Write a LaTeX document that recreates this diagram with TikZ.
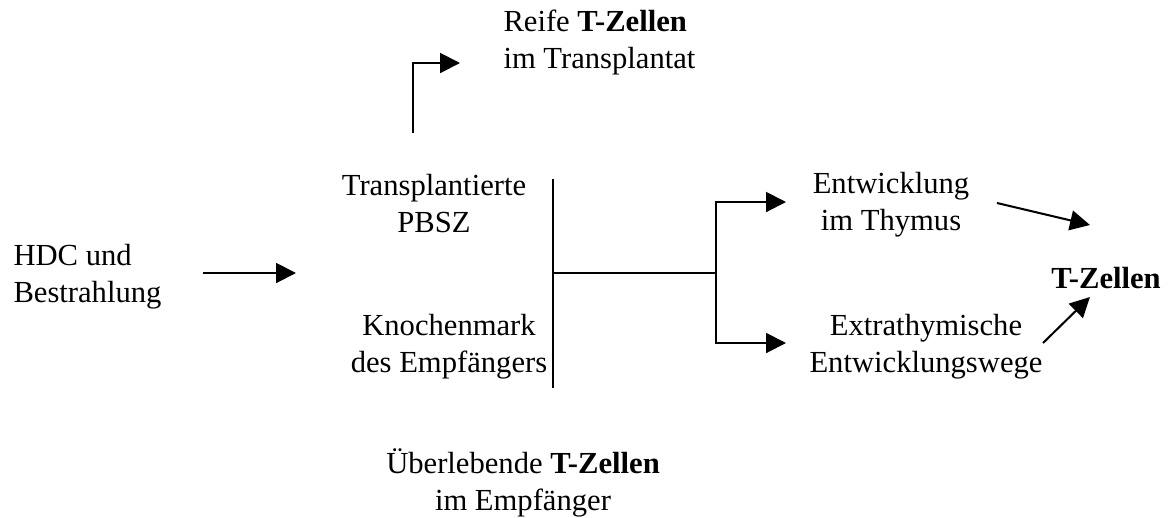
\documentclass[tikz,border=0pt]{standalone}
\usepackage{fontspec}
\setmainfont{Liberation Serif}
\usetikzlibrary{arrows.meta}
\tikzset{
    pfeil/.style={line width=0.8pt,-{Triangle[length=7.8pt,width=7.8pt]}},
    linie/.style={line width=0.8pt},
    txt/.style={font=\fontsize{12}{14.3}\selectfont,inner sep=0pt,anchor=base,align=center}
}

\begin{document}
\begin{tikzpicture}[x=0.392pt,y=-0.392pt]
        \useasboundingbox (0,0) rectangle (1172,517);

        % texte (base = letzte zeile)
        \node[txt,anchor=base west,align=left] (hdc) at (13,302) {HDC und\\Bestrahlung};
        \node[txt,anchor=base west,align=left] (reife) at (503,68) {Reife \textbf{T-Zellen}\\im Transplantat};
        \node[txt] (pbsz) at (434,232) {Transplantierte\\PBSZ};
        \node[txt] (km) at (449,372) {Knochenmark\\des Empfängers};
        \node[txt] (ueber) at (523,510) {Überlebende \textbf{T-Zellen}\\im Empfänger};
        \node[txt] (thymus) at (891,230) {Entwicklung\\im Thymus};
        \node[txt] (extra) at (926,372) {Extrathymische\\Entwicklungswege};
        \node[txt] (tz) at (1106,288) {\textbf{T-Zellen}};

        % punkte
        \coordinate (hdcA) at (203,273);
        \coordinate (hdcB) at (296,273);
        \coordinate (reifeA) at (413,133);
        \coordinate (reifeB) at (460,63);
        \coordinate (barTop) at (553,179);
        \coordinate (barBot) at (553,388);
        \coordinate (barMid) at (553,273);
        \coordinate (gabel) at (716,273);
        \coordinate (gabelO) at (786,202);
        \coordinate (gabelU) at (786,343);
        \coordinate (thyA) at (997,203);
        \coordinate (thyB) at (1090,225);
        \coordinate (extA) at (1043,343);
        \coordinate (extB) at (1090,297);

        % linien und pfeile
        \draw[pfeil] (hdcA) -- (hdcB);
        \draw[pfeil] (reifeA) |- (reifeB);
        \draw[linie] (barTop) -- (barBot);
        \draw[linie] (barMid) -- (gabel);
        \draw[pfeil] (gabel) |- (gabelO);
        \draw[pfeil] (gabel) |- (gabelU);
        \draw[pfeil] (thyA) -- (thyB);
        \draw[pfeil] (extA) -- (extB);

    \end{tikzpicture}
\end{document}
